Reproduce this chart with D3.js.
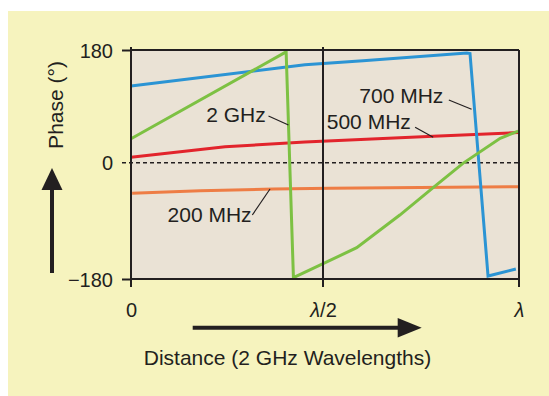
<!DOCTYPE html>
<html>
<head>
<meta charset="utf-8">
<script src="https://cdn.jsdelivr.net/npm/d3@7"></script>
<style>
  body { margin: 0; background: #fff; }
  text { font-family: "Liberation Sans", Arial, sans-serif; fill: #231f20; }
</style>
</head>
<body>
<div id="chart"></div>
<script>
// distance in 2 GHz wavelengths, phase in degrees
const dist700 = [0, 0.453, 0.602, 0.867, 0.875, 0.921, 0.992];
const phase700 = [122.5, 156.5, 162.9, 175.2, 174.5, -175.4, -164.5];

const dist2g = [0, 0.404, 0.423, 0.586, 0.696, 0.781, 0.857, 0.952, 0.998];
const phase2g = [38.3, 177, -178, -131.6, -81, -38.7, -1, 39, 50.6];

const dist500 = [0, 0.245, 0.453, 0.781, 0.998];
const phase500 = [8.6, 25.4, 33.2, 42.3, 48.1];

const dist200 = [0.003, 0.18, 0.371, 0.518, 0.998];
const phase200 = [-47.4, -43.3, -40.7, -39.6, -37.2];

const yTicks = [-180, 0, 180];
const xTicks = [0, 0.5, 1];
const xTickLabels = ["0", "λ/2", "λ"];

const width = 549;
const height = 396;

const svg = d3.select("#chart")
  .append("svg")
  .attr("width", width)
  .attr("height", height);

// yellow panel
svg.append("rect")
  .attr("x", 8)
  .attr("y", 11)
  .attr("width", width - 8)
  .attr("height", height - 11)
  .attr("fill", "#f6f3be");

const x = d3.scaleLinear().domain([0, 0.5, 1]).range([131, 323, 519]);
const y = d3.scaleLinear().domain([-180, 0, 180]).range([279, 162.7, 50]);

svg.append("rect")
  .attr("x", x(0))
  .attr("y", y(180))
  .attr("width", x(1) - x(0))
  .attr("height", y(-180) - y(180))
  .attr("fill", "#eae2d5");

// zero line
svg.append("line")
  .attr("x1", x(0) - 9)
  .attr("x2", x(1))
  .attr("y1", y(0))
  .attr("y2", y(0))
  .attr("stroke", "#231f20")
  .attr("stroke-width", 1.6)
  .attr("stroke-dasharray", "4,3");

// data lines
const series = [
  { name: "700 MHz", color: "#2b94d4", xs: dist700, ys: phase700 },
  { name: "2 GHz", color: "#7dc143", xs: dist2g, ys: phase2g },
  { name: "500 MHz", color: "#e2242c", xs: dist500, ys: phase500 },
  { name: "200 MHz", color: "#ee7d45", xs: dist200, ys: phase200 }
];

const line = d3.line()
  .x(d => x(d[0]))
  .y(d => y(d[1]));

// draw order: orange, red, blue, green on top
[3, 2, 0, 1].forEach(i => {
  const s = series[i];
  svg.append("path")
    .datum(d3.zip(s.xs, s.ys))
    .attr("d", line)
    .attr("fill", "none")
    .attr("stroke", s.color)
    .attr("stroke-width", 3)
    .attr("stroke-linejoin", "miter");
});

// frame
const frame = svg.append("g")
  .attr("stroke", "#231f20")
  .attr("stroke-width", 2)
  .attr("fill", "none");

frame.append("line").attr("x1", x(0)).attr("x2", x(1)).attr("y1", y(180)).attr("y2", y(180));
frame.append("line").attr("x1", x(0)).attr("x2", x(1)).attr("y1", y(-180)).attr("y2", y(-180));
frame.append("line").attr("x1", x(0)).attr("x2", x(0)).attr("y1", y(180) - 3).attr("y2", y(-180) + 8);
frame.append("line").attr("x1", x(0.5)).attr("x2", x(0.5)).attr("y1", y(180) - 3).attr("y2", y(-180) + 8);
frame.append("line").attr("x1", x(1)).attr("x2", x(1)).attr("y1", y(180)).attr("y2", y(-180) + 8);

// axes
const yAxis = d3.axisLeft(y)
  .tickValues(yTicks)
  .tickSize(9)
  .tickPadding(9)
  .tickFormat(d3.format("d"));

const gy = svg.append("g")
  .attr("transform", `translate(${x(0)},0)`)
  .call(yAxis);
gy.select(".domain").remove();
gy.selectAll(".tick line").attr("stroke", "#231f20").attr("stroke-width", 2)
  .filter(d => d === 0).remove();
gy.selectAll(".tick text")
  .attr("font-size", 20)
  .attr("font-family", "Liberation Sans, Arial, sans-serif")
  .attr("fill", "#231f20")
  .attr("dy", "0.35em");

const xAxis = d3.axisBottom(x)
  .tickValues(xTicks)
  .tickSize(8)
  .tickPadding(16)
  .tickFormat((d, i) => xTickLabels[i]);

const gx = svg.append("g")
  .attr("transform", `translate(0,${y(-180)})`)
  .call(xAxis);
gx.select(".domain").remove();
gx.selectAll(".tick line").remove();
gx.selectAll(".tick text")
  .attr("font-size", 20)
  .attr("font-family", "Liberation Sans, Arial, sans-serif")
  .attr("fill", "#231f20")
  .each(function(d, i) {
    const t = d3.select(this);
    const label = xTickLabels[i];
    if (label.startsWith("λ")) {
      t.text(null);
      t.append("tspan").attr("font-style", "italic").text("λ");
      if (label.length > 1) t.append("tspan").text(label.slice(1));
    }
  });

// annotations: label end point and leader line, in data units
const labels = [
  { name: "2 GHz", tx: 0.351, ty: 65.5, lx1: 0.358, ly1: 74.6, lx2: 0.410, ly2: 60.2 },
  { name: "700 MHz", tx: 0.807, ty: 95.8, lx1: 0.821, ly1: 100.1, lx2: 0.879, ly2: 85.3 },
  { name: "500 MHz", tx: 0.724, ty: 53.3, lx1: 0.735, ly1: 56.5, lx2: 0.781, ly2: 40.6 },
  { name: "200 MHz", tx: 0.314, ty: -91.3, lx1: 0.316, ly1: -80.9, lx2: 0.362, ly2: -40.7 }
];

labels.forEach(l => {
  svg.append("text")
    .attr("x", x(l.tx))
    .attr("y", y(l.ty))
    .attr("text-anchor", "end")
    .attr("font-size", 21)
    .text(l.name);
  svg.append("line")
    .attr("x1", x(l.lx1))
    .attr("y1", y(l.ly1))
    .attr("x2", x(l.lx2))
    .attr("y2", y(l.ly2))
    .attr("stroke", "#231f20")
    .attr("stroke-width", 1.2);
});

// axis titles
svg.append("text")
  .attr("transform", "translate(63,105) rotate(-90)")
  .attr("text-anchor", "middle")
  .attr("font-size", 21)
  .text("Phase (°)");

svg.append("text")
  .attr("x", 287.5)
  .attr("y", 365)
  .attr("text-anchor", "middle")
  .attr("font-size", 21)
  .text("Distance (2 GHz Wavelengths)");

// arrows
svg.append("line")
  .attr("x1", 52).attr("x2", 52)
  .attr("y1", 273).attr("y2", 188)
  .attr("stroke", "#231f20")
  .attr("stroke-width", 4);
svg.append("path")
  .attr("d", "M52,168 L62.5,190 L41.5,190 Z")
  .attr("fill", "#231f20");

svg.append("line")
  .attr("x1", 192.7).attr("x2", 399)
  .attr("y1", 327.7).attr("y2", 327.7)
  .attr("stroke", "#231f20")
  .attr("stroke-width", 4);
svg.append("path")
  .attr("d", "M421.7,327.7 L397.7,318 L397.7,337.4 Z")
  .attr("fill", "#231f20");
</script>
</body>
</html>
